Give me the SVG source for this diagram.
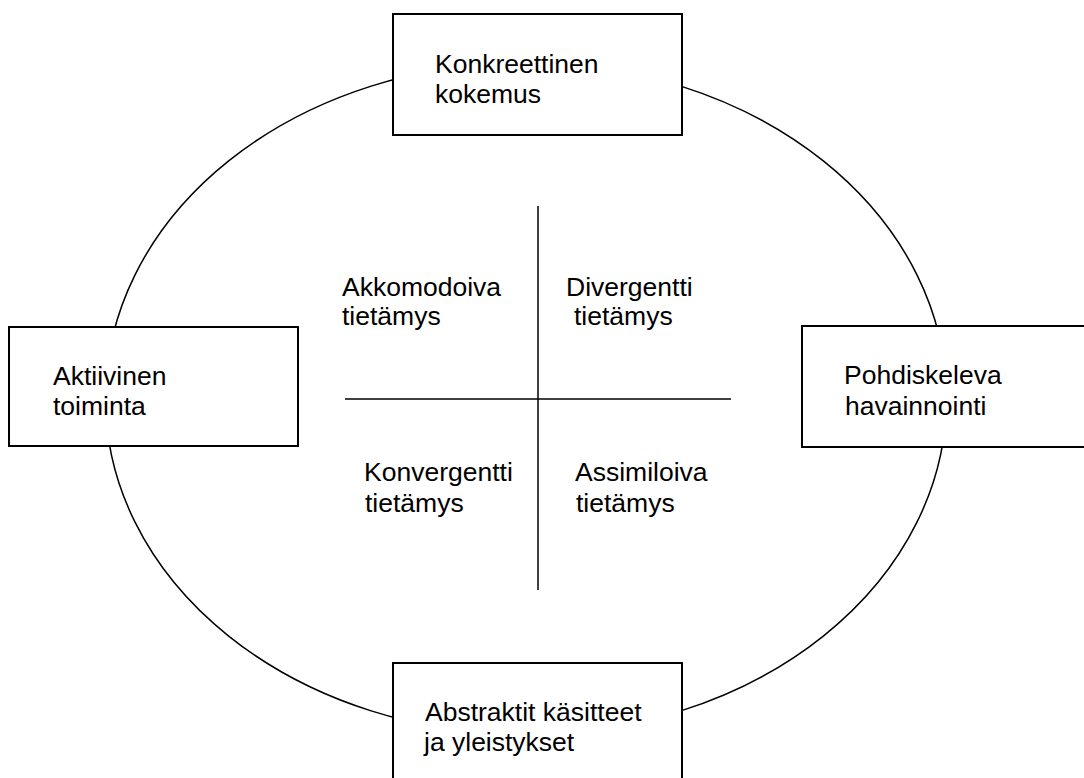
<svg xmlns="http://www.w3.org/2000/svg" width="1084" height="778" viewBox="0 0 1084 778">
<style>
.box{fill:#fff;stroke:#000;stroke-width:2}
.ln{fill:none;stroke:#000;stroke-width:1.5}
text{font-family:"Liberation Sans",Arial,sans-serif;font-size:26.5px;fill:#000}
</style>
<rect width="1084" height="778" fill="#fff"/>
<g id="connectors">
<ellipse class="ln" cx="526" cy="398.5" rx="420.5" ry="336"/>
<line class="ln" x1="538" y1="206" x2="538" y2="590"/>
<line class="ln" x1="345" y1="399" x2="731" y2="399"/>
</g>
<g id="konkreettinen">
<rect class="box" x="393" y="14" width="289" height="121"/>
<text x="435" y="73">Konkreettinen</text>
<text x="435" y="103">kokemus</text>
</g>
<g id="aktiivinen">
<rect class="box" x="9" y="327" width="289" height="119"/>
<text x="53" y="385">Aktiivinen</text>
<text x="53" y="415">toiminta</text>
</g>
<g id="pohdiskeleva">
<rect class="box" x="802" y="326" width="300" height="121"/>
<text x="844" y="384">Pohdiskeleva</text>
<text x="845" y="415">havainnointi</text>
</g>
<g id="abstraktit">
<rect class="box" x="393" y="663" width="289" height="130"/>
<text x="425" y="721">Abstraktit käsitteet</text>
<text x="424" y="751">ja yleistykset</text>
</g>
<g id="akkomodoiva">
<text x="342" y="296">Akkomodoiva</text>
<text x="342" y="325">tietämys</text>
</g>
<g id="divergentti">
<text x="566" y="296">Divergentti</text>
<text x="574" y="325">tietämys</text>
</g>
<g id="konvergentti">
<text x="364" y="481">Konvergentti</text>
<text x="365" y="512">tietämys</text>
</g>
<g id="assimiloiva">
<text x="575" y="481">Assimiloiva</text>
<text x="576" y="512">tietämys</text>
</g>
</svg>
